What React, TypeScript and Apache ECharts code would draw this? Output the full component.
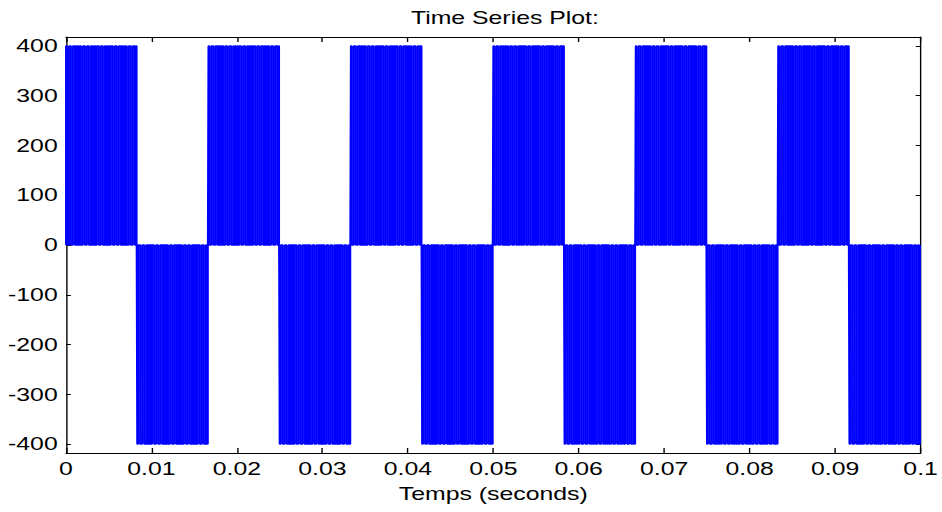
import React, { useEffect, useRef } from "react";
import * as echarts from "echarts";

// Half-cycle start times (ms) and polarity of the PWM output
const HALF_CYCLE_START_MS = [0, 8.333, 16.667, 25, 33.333, 41.667, 50, 58.333, 66.667, 75, 83.333, 91.667];
const HALF_CYCLE_SIGN = [1, -1, 1, -1, 1, -1, 1, -1, 1, -1, 1, -1];
const AMPLITUDE = 400;
// Switching instants inside one half cycle (ms from its start), read from the stripes
const EDGES_MS = [
  0.0, 0.116, 0.349, 0.582, 0.815, 1.048, 1.164, 1.281, 1.397, 1.513, 1.63, 1.746,
  1.979, 2.212, 2.445, 2.677, 2.91, 3.027, 3.143, 3.26, 3.376, 3.492, 3.609,
  3.842, 4.074, 4.307, 4.54, 4.656, 4.773, 4.889, 5.006, 5.122, 5.238,
  5.471, 5.704, 5.937, 6.17, 6.403, 6.519, 6.635, 6.752, 6.868, 6.985, 7.101,
  7.334, 7.567, 7.8, 8.033, 8.149, 8.265,
];
const Y_TICKS = [-400, -300, -200, -100, 0, 100, 200, 300, 400];
const Y_RANGE = [-418, 418];
const X_RANGE = [0, 0.1];
const X_INTERVAL = 0.01;

const STRETCH = 942 / 683;
const W = 683;
const H = 512;

function buildSeries(): [number, number][] {
  const pts: [number, number][] = [];
  HALF_CYCLE_START_MS.forEach((start, k) => {
    const lvl = HALF_CYCLE_SIGN[k] * AMPLITUDE;
    EDGES_MS.forEach((e, i) => {
      const t = (start + e) / 1000;
      if (i % 2 === 0) {
        pts.push([t, 0], [t, lvl]);
      } else {
        pts.push([t, lvl], [t, 0]);
      }
    });
  });
  return pts;
}

export default function App() {
  const ref = useRef<HTMLDivElement>(null);
  useEffect(() => {
    document.body.style.margin = "0";
    const chart = echarts.init(ref.current!, null, { renderer: "svg" });
    const font = "'Liberation Sans', Arial, Helvetica, sans-serif";
    const axisLine = { show: true, onZero: false, lineStyle: { color: "#000", width: 1 } };
    chart.setOption({
      animation: false,
      backgroundColor: "#fff",
      title: {
        text: "Time Series Plot:",
        left: 498 / STRETCH,
        textAlign: "center",
        top: 4,
        textStyle: { fontFamily: font, fontSize: 18, fontWeight: "normal", color: "#000" },
      },
      grid: { left: 66 / STRETCH, right: 13 / STRETCH, top: 37, bottom: 59, containLabel: false },
      xAxis: [
        {
          type: "value",
          min: X_RANGE[0],
          max: X_RANGE[1],
          interval: X_INTERVAL,
          position: "bottom",
          name: "Temps (seconds)",
          nameLocation: "middle",
          nameGap: 32,
          nameTextStyle: { fontFamily: font, fontSize: 18, color: "#000" },
          axisLine,
          axisTick: { show: true, inside: true, length: 5, lineStyle: { color: "#000" } },
          axisLabel: {
            fontFamily: font,
            fontSize: 18,
            color: "#000",
            margin: 7,
            formatter: (v: number) => String(+v.toFixed(2)),
          },
          splitLine: { show: false },
        },
        {
          type: "value",
          min: X_RANGE[0],
          max: X_RANGE[1],
          interval: X_INTERVAL,
          position: "top",
          axisLine,
          axisTick: { show: true, inside: true, length: 5, lineStyle: { color: "#000" } },
          axisLabel: { show: false },
          splitLine: { show: false },
        },
      ],
      yAxis: [
        {
          type: "value",
          min: Y_RANGE[0],
          max: Y_RANGE[1],
          position: "left",
          axisLine,
          axisTick: { show: true, inside: true, length: 3.6, customValues: Y_TICKS, lineStyle: { color: "#000" } },
          axisLabel: {
            fontFamily: font,
            fontSize: 18,
            color: "#000",
            margin: 6,
            customValues: Y_TICKS,
          },
          splitLine: { show: false },
        },
        {
          type: "value",
          min: Y_RANGE[0],
          max: Y_RANGE[1],
          position: "right",
          axisLine,
          axisTick: { show: true, inside: true, length: 3.6, customValues: Y_TICKS, lineStyle: { color: "#000" } },
          axisLabel: { show: false },
          splitLine: { show: false },
        },
      ],
      series: [
        {
          type: "line",
          data: buildSeries(),
          showSymbol: false,
          symbol: "none",
          lineStyle: { color: "#0000ff", width: 1.4 },
          xAxisIndex: 0,
          yAxisIndex: 0,
          clip: true,
        },
      ],
    });
    return () => chart.dispose();
  }, []);
  return (
    <div
      ref={ref}
      style={{
        position: "absolute",
        left: 0,
        top: 0,
        width: W,
        height: H,
        transform: `scaleX(${STRETCH})`,
        transformOrigin: "0 0",
      }}
    />
  );
}
